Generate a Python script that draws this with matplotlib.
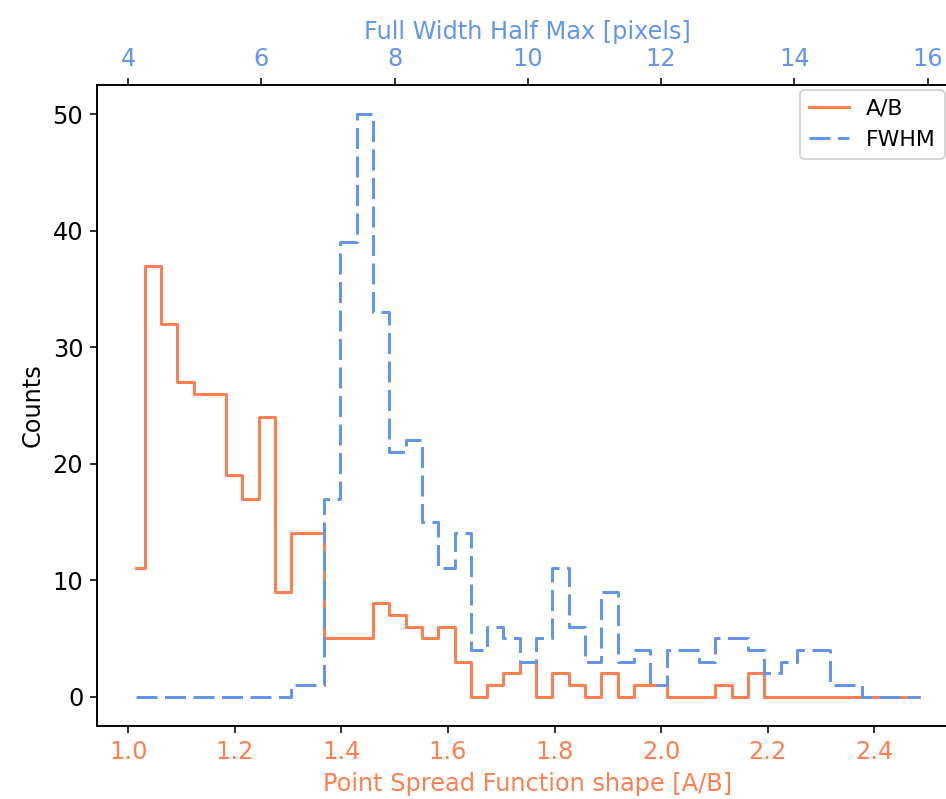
import numpy as np
import matplotlib
matplotlib.use("Agg")
import matplotlib.pyplot as plt

# histogram bins (49 bins each)
ab_edges = np.linspace(1.0, 2.5, 50)
fwhm_edges = np.linspace(4.0, 16.0, 50)

ab_counts = [11, 37, 32, 27, 26, 26, 19, 17, 24, 9,
             14, 14, 5, 5, 5, 8, 7, 6, 5, 6,
             3, 0, 1, 2, 3, 0, 2, 1, 0, 2,
             0, 1, 1, 0, 0, 0, 1, 0, 2, 0,
             0, 0, 0, 0, 0, 0, 0, 0, 0]

fwhm_counts = [0, 0, 0, 0, 0, 0, 0, 0, 0, 0,
               1, 1, 17, 39, 50, 33, 21, 22, 15, 11,
               14, 4, 6, 5, 3, 5, 11, 6, 3, 9,
               3, 4, 1, 4, 4, 3, 5, 5, 4, 2,
               3, 4, 4, 1, 1, 0, 0, 0, 0]

ab_color = "coral"
fwhm_color = "cornflowerblue"

ab_centers = 0.5 * (ab_edges[1:] + ab_edges[:-1])
fwhm_centers = 0.5 * (fwhm_edges[1:] + fwhm_edges[:-1])

plt.rcParams["font.size"] = 12

dpi = 144
fig = plt.figure(figsize=(946 / dpi, 799 / dpi), dpi=dpi)
# axes runs a bit past the right edge of the picture, as in the original crop
ax = fig.add_axes([97.3 / 946, 73.3 / 799, 861.2 / 946, 640.7 / 799])

l1, = ax.step(ab_centers, ab_counts, where="mid", color=ab_color, lw=1.5, label="A/B")
ax.set_xlabel("Point Spread Function shape [A/B]", color=ab_color)
ax.set_ylabel("Counts")
ax.tick_params(axis="x", labelcolor=ab_color)
ax.set_yticks([0, 10, 20, 30, 40, 50])

ax2 = ax.twiny()
l2, = ax2.step(fwhm_centers, fwhm_counts, where="mid", color=fwhm_color, lw=1.5,
               linestyle=(0, (7, 2.5)), label="FWHM")
ax2.set_xlabel("Full Width Half Max [pixels]", color=fwhm_color)
ax2.tick_params(axis="x", labelcolor=fwhm_color)
ax2.set_xticks([4, 6, 8, 10, 12, 14, 16])

ax2.legend(handles=[l1, l2], loc="upper right", fontsize=11, borderaxespad=0,
           handlelength=1.8, bbox_to_anchor=(0.984, 0.992))

plt.savefig("out.png", dpi=dpi)
